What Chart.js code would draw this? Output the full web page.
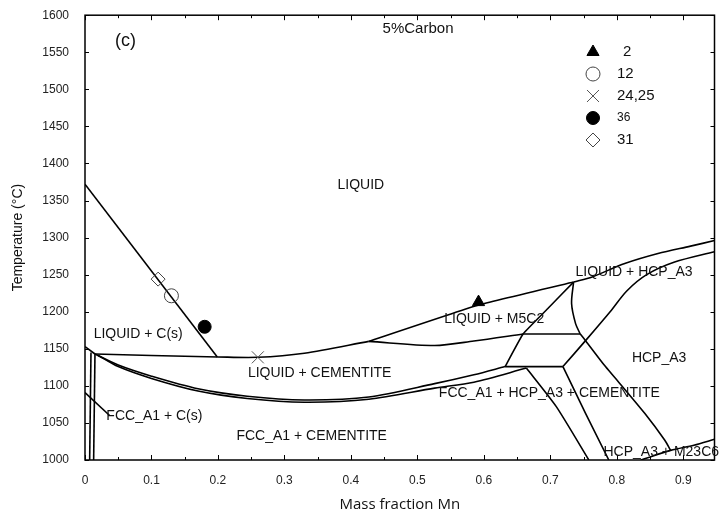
<!DOCTYPE html>
<html>
<head>
<meta charset="utf-8">
<script src="https://cdn.jsdelivr.net/npm/chart.js@4.4.1/dist/chart.umd.min.js"></script>
<style>
  html, body { margin: 0; padding: 0; background: #fff; }
  #wrap { width: 724px; height: 514px; }
</style>
</head>
<body>
<div id="wrap"><canvas id="phase" width="724" height="514"></canvas></div>
<script>
// phase boundaries as [mass fraction Mn, temperature °C]
const liquidusGraphite = [[0, 1372], [0.199, 1139]];
const graphiteEutectic = [[0, 1153], [0.015, 1143]];
const liqCementiteTop = [[0.015, 1143], [0.1, 1141], [0.2, 1139], [0.26, 1138.5], [0.33, 1144], [0.427, 1160]];
const liqCementiteBottom = [[0.015, 1143], [0.05, 1128], [0.1, 1113], [0.17, 1096], [0.244, 1086], [0.33, 1081], [0.427, 1085], [0.526, 1103], [0.585, 1115], [0.632, 1126]];
const fccCementiteTop = [[0.02, 1141], [0.05, 1126], [0.1, 1110], [0.17, 1093], [0.244, 1083], [0.33, 1078], [0.427, 1082], [0.526, 1097], [0.585, 1105], [0.664, 1124]];
const fccLeft1 = [[0.009, 1145], [0.007, 1000]];
const fccLeft2 = [[0.015, 1143], [0.013, 1000]];
const fccGraphite = [[0, 1091], [0.037, 1060]];
const m5c2Top = [[0.427, 1160], [0.592, 1209], [0.735, 1240]];
const m5c2Bottom = [[0.427, 1160], [0.526, 1154.5], [0.585, 1160.5], [0.659, 1170]];
const liqHcpTop = [[0.735, 1240], [0.763, 1247], [0.812, 1265], [0.862, 1278.5], [0.911, 1288.5], [0.947, 1296]];
const triLeft = [[0.735, 1240], [0.697, 1205], [0.659, 1170], [0.632, 1126]];
const triRight = [[0.735, 1240], [0.732, 1211], [0.738, 1184], [0.745, 1170]];
const tie1170 = [[0.659, 1170], [0.745, 1170]];
const tie1126 = [[0.632, 1126], [0.719, 1126]];
const hcpLeft = [[0.745, 1170], [0.753, 1161], [0.783, 1126], [0.802, 1106], [0.842, 1063], [0.872, 1027], [0.881, 1013]];
const hcpLens = [[0.719, 1126], [0.753, 1161], [0.79, 1200], [0.815, 1228], [0.845, 1250], [0.887, 1267], [0.947, 1281]];
const fccHcp1 = [[0.664, 1124], [0.709, 1072], [0.758, 1000]];
const fccHcp2 = [[0.719, 1126], [0.753, 1063], [0.788, 1000]];
const m23c6 = [[0.836, 1000], [0.881, 1013], [0.916, 1020], [0.947, 1028]];

// experimental samples
const sampleNames = ['2', '12', '24,25', '36', '31'];
const sampleMn = [0.592, 0.130, 0.260, 0.180, 0.110];
const sampleTemp = [1213, 1221.5, 1138.5, 1179.7, 1244];

const regionLabels = [
  { text: 'LIQUID', x: 0.415, y: 1371 },
  { text: 'LIQUID + C(s)', x: 0.08, y: 1170 },
  { text: 'FCC_A1 + C(s)', x: 0.1044, y: 1059 },
  { text: 'LIQUID + CEMENTITE', x: 0.353, y: 1116.6 },
  { text: 'FCC_A1 + CEMENTITE', x: 0.341, y: 1031.7 },
  { text: 'LIQUID + M5C2', x: 0.6156, y: 1190 },
  { text: 'LIQUID + HCP_A3', x: 0.826, y: 1252.8 },
  { text: 'HCP_A3', x: 0.8637, y: 1138 },
  { text: 'FCC_A1 + HCP_A3 + CEMENTITE', x: 0.6985, y: 1090.3 },
  { text: 'HCP_A3 + M23C6', x: 0.78, y: 1010.8, align: 'left' }
];

const markerStyles = [
  { pointStyle: 'triangle', radius: 7, fill: '#000', stroke: '#000', width: 1 },
  { pointStyle: 'circle', radius: 7, fill: 'rgba(0,0,0,0)', stroke: '#444', width: 1 },
  { pointStyle: 'crossRot', radius: 8.5, fill: 'rgba(0,0,0,0)', stroke: '#555', width: 1 },
  { pointStyle: 'circle', radius: 6.5, fill: '#000', stroke: '#000', width: 1 },
  { pointStyle: 'rectRot', radius: 7, fill: 'rgba(0,0,0,0)', stroke: '#444', width: 1 }
];

const toXY = pts => pts.map(p => ({ x: p[0], y: p[1] }));

function boundary(pts, tension) {
  return {
    data: toXY(pts),
    showLine: true,
    borderColor: '#000',
    borderWidth: 1.6,
    pointRadius: 0,
    tension: tension || 0,
    fill: false
  };
}

const datasets = [];
sampleNames.forEach((name, i) => {
  const s = markerStyles[i];
  datasets.push({
    label: name,
    data: [{ x: sampleMn[i], y: sampleTemp[i] }],
    showLine: false,
    pointStyle: s.pointStyle,
    pointRadius: s.radius,
    backgroundColor: s.fill,
    borderColor: s.stroke,
    borderWidth: s.width
  });
});
datasets.push(
  boundary(liquidusGraphite),
  boundary(graphiteEutectic),
  boundary(liqCementiteTop, 0.3),
  boundary(liqCementiteBottom, 0.3),
  boundary(fccCementiteTop, 0.3),
  boundary(fccLeft1),
  boundary(fccLeft2),
  boundary(fccGraphite),
  boundary(m5c2Top, 0.1),
  boundary(m5c2Bottom, 0.3),
  boundary(liqHcpTop, 0.3),
  boundary(triLeft, 0.1),
  boundary(triRight, 0.3),
  boundary(tie1170),
  boundary(tie1126),
  boundary(hcpLeft, 0.3),
  boundary(hcpLens, 0.3),
  boundary(fccHcp1, 0.2),
  boundary(fccHcp2),
  boundary(m23c6, 0.3)
);

function drawMarker(ctx, s, x, y) {
  ctx.save();
  ctx.fillStyle = s.fill;
  ctx.strokeStyle = s.stroke;
  ctx.lineWidth = s.width;
  const r = s.radius;
  ctx.beginPath();
  if (s.pointStyle === 'triangle') {
    for (let k = 0; k < 3; k++) {
      const a = k * 2 * Math.PI / 3;
      const px = x + Math.sin(a) * r, py = y - Math.cos(a) * r;
      if (k === 0) ctx.moveTo(px, py); else ctx.lineTo(px, py);
    }
    ctx.closePath();
    ctx.fill(); ctx.stroke();
  } else if (s.pointStyle === 'circle') {
    ctx.arc(x, y, r, 0, Math.PI * 2);
    ctx.fill(); ctx.stroke();
  } else if (s.pointStyle === 'rectRot') {
    ctx.moveTo(x, y - r); ctx.lineTo(x + r, y); ctx.lineTo(x, y + r); ctx.lineTo(x - r, y);
    ctx.closePath();
    ctx.fill(); ctx.stroke();
  } else {
    const d = r * Math.SQRT1_2;
    ctx.moveTo(x - d, y - d); ctx.lineTo(x + d, y + d);
    ctx.moveTo(x + d, y - d); ctx.lineTo(x - d, y + d);
    ctx.stroke();
  }
  ctx.restore();
}

const decor = {
  id: 'decor',
  afterDatasetsDraw(chart) {
    const { ctx, chartArea: a, scales: { x, y } } = chart;
    ctx.save();

    // inward ticks
    ctx.strokeStyle = '#000';
    ctx.lineWidth = 1;
    ctx.beginPath();
    for (let i = 0; i * 0.05 <= x.max + 1e-9; i++) {
      const px = Math.round(x.getPixelForValue(i * 0.05)) + 0.5;
      const len = i % 2 === 0 ? 5 : 3;
      ctx.moveTo(px, a.bottom); ctx.lineTo(px, a.bottom - len);
      ctx.moveTo(px, a.top); ctx.lineTo(px, a.top + len);
    }
    for (let t = 1000; t <= 1600; t += 50) {
      const py = Math.round(y.getPixelForValue(t)) + 0.5;
      ctx.moveTo(a.left, py); ctx.lineTo(a.left + 4, py);
      ctx.moveTo(a.right, py); ctx.lineTo(a.right - 4, py);
    }
    ctx.stroke();

    // frame
    ctx.lineWidth = 1.5;
    ctx.strokeRect(a.left, a.top, a.right - a.left, a.bottom - a.top);

    // region names
    ctx.fillStyle = '#111';
    ctx.textBaseline = 'middle';
    ctx.font = '14px "Liberation Sans", Arial, sans-serif';
    regionLabels.forEach(l => {
      ctx.textAlign = l.align || 'center';
      ctx.fillText(l.text, x.getPixelForValue(l.x), y.getPixelForValue(l.y));
    });
    ctx.textAlign = 'center';
    ctx.font = '18px "Liberation Sans", Arial, sans-serif';
    ctx.fillText('(c)', x.getPixelForValue(0.061), y.getPixelForValue(1565));
    ctx.font = '15px "Liberation Sans", Arial, sans-serif';
    ctx.fillText('5%Carbon', x.getPixelForValue(0.501), y.getPixelForValue(1581));

    // legend
    ctx.textAlign = 'left';
    sampleNames.forEach((name, i) => {
      const ly = 52 + i * 22;
      drawMarker(ctx, markerStyles[i], 593, ly);
      ctx.fillStyle = '#111';
      ctx.font = (name === '36' ? '12px' : '15px') + ' "Liberation Sans", Arial, sans-serif';
      ctx.fillText(name, name === '2' ? 623 : 617, ly);
    });

    ctx.restore();
  }
};

new Chart(document.getElementById('phase'), {
  type: 'scatter',
  data: { datasets: datasets },
  options: {
    responsive: false,
    animation: false,
    devicePixelRatio: 1,
    layout: { padding: { top: 15, right: 0, left: 0, bottom: 0 } },
    plugins: {
      legend: { display: false },
      tooltip: { enabled: false }
    },
    scales: {
      x: {
        type: 'linear',
        min: 0,
        max: 0.947,
        afterFit: s => { s.height = 54; },
        grid: { display: false },
        border: { display: false },
        ticks: {
          stepSize: 0.1,
          includeBounds: false,
          padding: 5,
          color: '#222',
          callback: v => String(Math.round(v * 10) / 10),
          font: { family: '"Liberation Sans", Arial, sans-serif', size: 12 }
        },
        title: {
          display: true,
          text: 'Mass fraction Mn',
          color: '#111',
          padding: { top: 0, bottom: 0 },
          font: { family: '"Open Sans", sans-serif', size: 15 }
        }
      },
      y: {
        min: 1000,
        max: 1600,
        afterFit: s => { s.width = 85; },
        grid: { display: false },
        border: { display: false },
        ticks: {
          stepSize: 50,
          padding: 8,
          color: '#222',
          callback: v => String(v),
          font: { family: '"Liberation Sans", Arial, sans-serif', size: 12 }
        },
        title: {
          display: true,
          text: 'Temperature (°C)',
          color: '#111',
          padding: { top: 10, bottom: 0 },
          font: { family: '"Liberation Sans", Arial, sans-serif', size: 14 }
        }
      }
    }
  },
  plugins: [decor]
});
</script>
</body>
</html>
